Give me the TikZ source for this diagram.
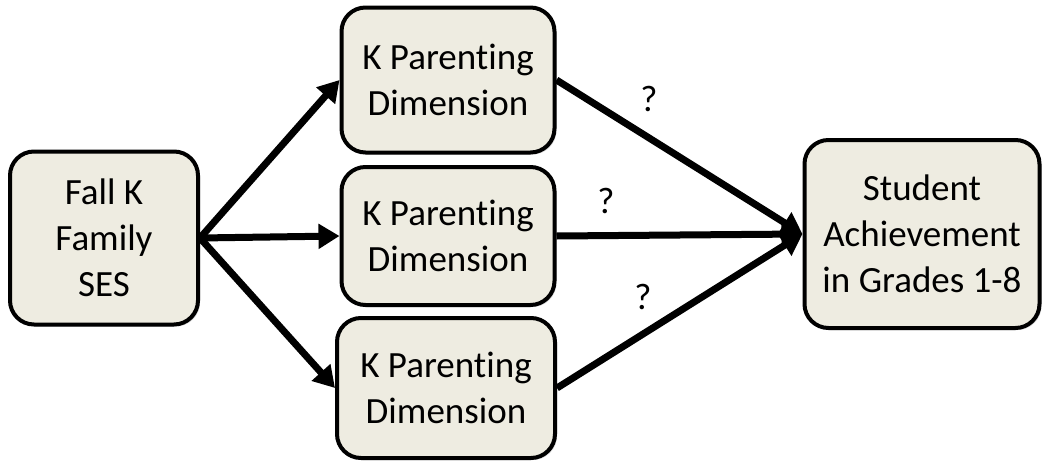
\documentclass[tikz,border=0pt]{standalone}
\usepackage{fontspec}
\setmainfont[Ligatures=NoCommon,RawFeature=-liga,RawFeature=-clig]{Carlito}
\usetikzlibrary{positioning,calc,arrows.meta,shadows}
\definecolor{tanfill}{HTML}{EEECE1}

\begin{document}
\begin{tikzpicture}[x=1pt,y=-1pt,
				block/.style={draw,rectangle,rounded corners=24pt,line width=4pt,fill=tanfill,
					align=center,inner sep=0pt,font=\fontsize{37}{46}\selectfont,
					drop shadow={shadow xshift=2pt,shadow yshift=-2pt,opacity=0.3}},
				link/.style={line width=7pt,-{Triangle[length=21pt,width=24pt]}},
				qmark/.style={font=\fontsize{37}{46}\selectfont}]
				\useasboundingbox (0,0) rectangle (1045,461);
				\node (SES) [block,minimum width=188pt,minimum height=173pt] at (104,238) {Fall K\\Family\\SES};
				\node (PA)  [block,minimum width=213pt,minimum height=145pt] at (448,80)  {K Parenting\\Dimension};
				\node (PB)  [block,minimum width=213pt,minimum height=138pt] at (448,236) {K Parenting\\Dimension};
				\node (PC)  [block,minimum width=218pt,minimum height=140pt] at (446,388) {K Parenting\\Dimension};
				\node (ACH) [block,minimum width=235pt,minimum height=188pt] at (922,234) {Student\\Achievement\\in Grades 1-8};

				\draw[link] (SES.east) -- (PA.west);
				\draw[link] (SES.east) -- (PB.west);
				\draw[link] (SES.east) -- (PC.west);
				\draw[link] (PA.east) -- (ACH.west);
				\draw[link] (PB.east) -- (ACH.west);
				\draw[link] (PC.east) -- (ACH.west);

				\node (QA) [qmark] at (649,99)  {?};
				\node (QB) [qmark] at (606,201) {?};
				\node (QC) [qmark] at (643,297) {?};
			\end{tikzpicture}
\end{document}
